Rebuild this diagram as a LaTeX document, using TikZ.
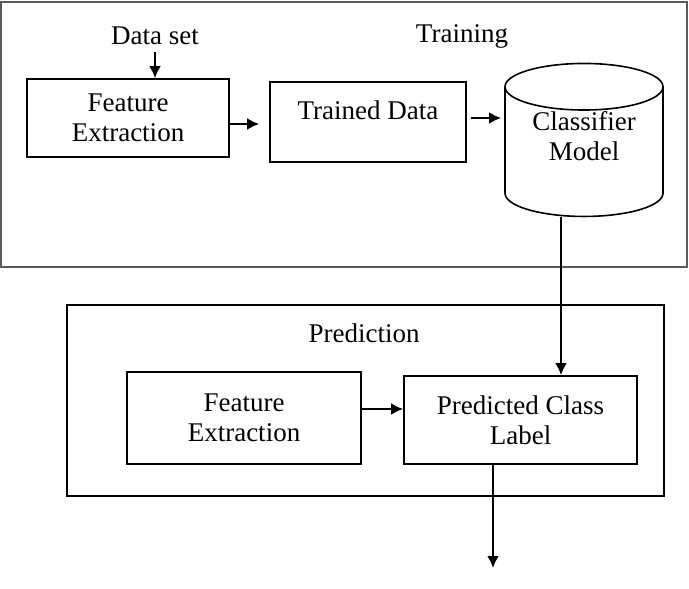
\documentclass[tikz,border=0pt]{standalone}
\usepackage{fontspec}
\setmainfont{Liberation Serif}
\usetikzlibrary{arrows.meta,shapes.geometric}
\definecolor{FrameGray}{HTML}{5A5A5A}

\begin{document}
\begin{tikzpicture}[x=0.5pt, y=-0.5pt, >={Latex[length=6pt,width=6pt]},
    font=\fontsize{13.5}{15}\selectfont,
    box/.style={draw, line width=0.8pt, align=center, inner sep=0pt},
    flow/.style={->, line width=1.2pt}]
    \useasboundingbox (0,0) rectangle (689,588);

    \node[draw=FrameGray, line width=1pt, minimum width=343pt, minimum height=132.5pt] (training) at (344,134.5) {};
    \node[draw, line width=0.8pt, minimum width=298.5pt, minimum height=95.5pt] (prediction) at (365.5,400.5) {};

    \node (dataset) at (155,36) {Data set};
    \node (traintitle) at (462,36) {Training};
    \node (predtitle) at (364,333) {Prediction};

    \node[box, minimum width=101pt, minimum height=39pt] (fe1) at (128,118) {Feature\\Extraction};
    \node[box, minimum width=98pt, minimum height=40pt, text depth=12pt] (trained) at (368,122) {Trained Data};
    \node[draw, line width=0.8pt, cylinder, shape border rotate=90, aspect=0.45,
          minimum width=79pt, minimum height=76.5pt, align=center, inner sep=0pt,
          text depth=16pt] (model) at (584,152) {Classifier\\Model};

    \node[box, minimum width=117pt, minimum height=46pt] (fe2) at (244,418) {Feature\\Extraction};
    \node[box, minimum width=116.5pt, minimum height=44pt] (label) at (520.5,420) {Predicted Class\\Label};
    \coordinate (out) at (493,568);

    \draw[flow] (dataset.south) -- (dataset.south |- fe1.north);
    \draw[flow, shorten >=5pt] ([yshift=-3pt]fe1.east) -- ([yshift=-3pt]fe1.east -| trained.west);
    \draw[flow, shorten <=2pt, shorten >=1.5pt] ([yshift=2pt]trained.east) -- ([yshift=2pt]trained.east -| model.west);
    \draw[flow] ([xshift=-11.5pt]model.south) -- ([xshift=-11.5pt]model.south |- label.north);
    \draw[flow] ([yshift=4.5pt]fe2.east) -- ([yshift=4.5pt]fe2.east -| label.west);
    \draw[flow] (label.south -| out) -- (out);
\end{tikzpicture}
\end{document}
